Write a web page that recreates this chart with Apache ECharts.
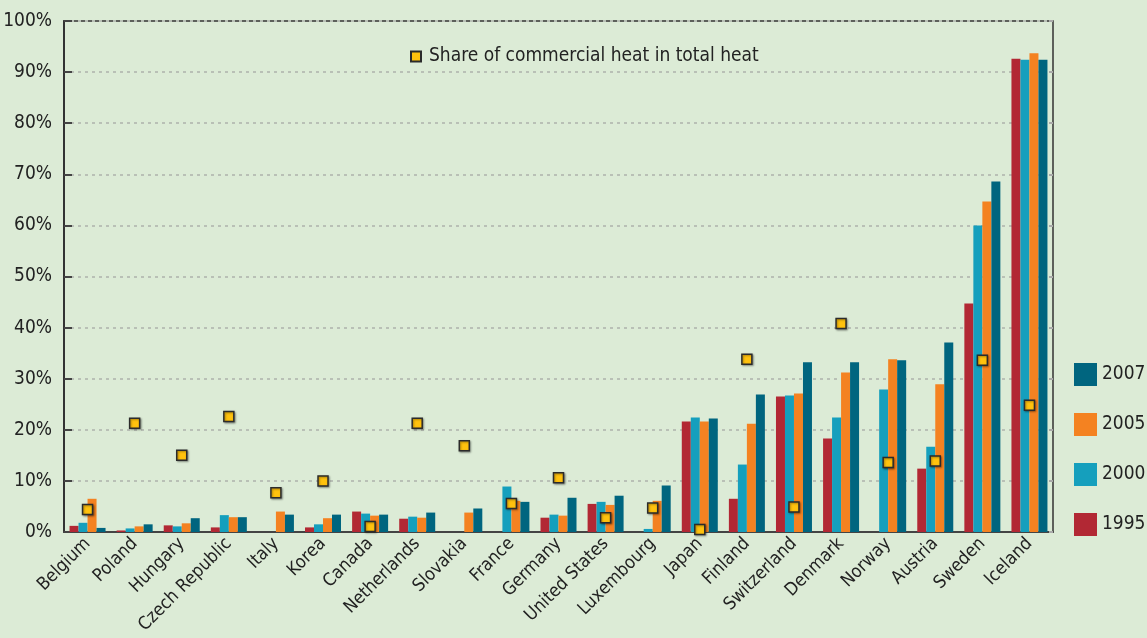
<!DOCTYPE html>
<html>
<head>
<meta charset="utf-8">
<script src="https://cdn.jsdelivr.net/npm/echarts@6/dist/echarts.min.js"></script>
<style>
  html, body { margin: 0; padding: 0; background: #dcebd6; }
  #heat_chart { width: 1147px; height: 638px; }
</style>
</head>
<body>
<div id="heat_chart"></div>
<script>
let countries = ['Belgium', 'Poland', 'Hungary', 'Czech Republic', 'Italy', 'Korea', 'Canada', 'Netherlands', 'Slovakia', 'France', 'Germany', 'United States', 'Luxembourg', 'Japan', 'Finland', 'Switzerland', 'Denmark', 'Norway', 'Austria', 'Sweden', 'Iceland']
let years = ['1995', '2000', '2005', '2007']
let v1995 = [1.2, 0.3, 1.3, 0.9, 0, 0.9, 4.0, 2.6, 0, 0, 2.8, 5.5, 0, 21.6, 6.5, 26.5, 18.3, 0, 12.4, 44.7, 92.6]
let v2000 = [1.8, 0.7, 1.1, 3.3, 0, 1.5, 3.6, 3.0, 0, 8.9, 3.4, 5.9, 0.6, 22.4, 13.2, 26.7, 22.4, 27.9, 16.7, 60.0, 92.4]
let v2005 = [6.5, 1.1, 1.7, 2.9, 4.0, 2.7, 3.2, 2.8, 3.8, 6.1, 3.2, 5.3, 6.1, 21.6, 21.2, 27.1, 31.2, 33.8, 28.9, 64.7, 93.7]
let v2007 = [0.8, 1.5, 2.7, 2.9, 3.4, 3.4, 3.4, 3.8, 4.6, 5.9, 6.7, 7.1, 9.1, 22.2, 26.9, 33.2, 33.2, 33.6, 37.1, 68.6, 92.4]
let commercialShare = [4.4, 21.3, 15.0, 22.6, 7.7, 10.0, 1.1, 21.3, 16.9, 5.6, 10.6, 2.8, 4.7, 0.5, 33.8, 4.9, 40.8, 13.6, 13.9, 33.6, 24.8]
let shareName = 'Share of commercial heat in total heat'

let colors = {
  '1995': '#b22834',
  '2000': '#159fbd',
  '2005': '#f48221',
  '2007': '#00657f'
}
let font = "'DejaVu Sans Condensed', sans-serif"

let dom = document.getElementById('heat_chart')
let myChart = echarts.init(dom)
let yearValues = [v1995, v2000, v2005, v2007]

let option = {
  backgroundColor: '#dcebd6',
  animation: false,
  textStyle: {
    fontFamily: font
  },
  grid: {
    left: 64,
    right: 94,
    top: 21,
    bottom: 106,
    outerBoundsMode: 'none',
    show: true,
    borderColor: '#333',
    borderWidth: 1.5,
    backgroundColor: 'transparent'
  },
  legend: [{
    data: [{ name: shareName, icon: 'rect' }],
    left: 405,
    top: 42,
    itemWidth: 10,
    itemHeight: 10,
    itemGap: 8,
    textStyle: {
      color: '#222',
      fontSize: 19,
      padding: [0, 0, 0, 3],
      fontFamily: font
    }
  }, {
    data: ['2007', '2005', '2000', '1995'],
    orient: 'vertical',
    left: 1069,
    top: 358,
    icon: 'rect',
    itemWidth: 23,
    itemHeight: 23,
    itemGap: 27,
    textStyle: {
      color: '#222',
      fontSize: 19,
      fontFamily: font
    }
  }],
  xAxis: {
    type: 'category',
    data: countries,
    axisLine: {
      lineStyle: { color: '#444', width: 2 }
    },
    axisTick: {
      inside: true,
      length: 5,
      lineStyle: { color: '#555', width: 1.5 }
    },
    axisLabel: {
      rotate: 45,
      interval: 0,
      margin: 9,
      color: '#222',
      fontSize: 18,
      fontFamily: font
    }
  },
  yAxis: [{
    type: 'value',
    min: 0,
    max: 100,
    interval: 10,
    axisLine: {
      show: true,
      lineStyle: { color: '#333', width: 2 }
    },
    axisTick: {
      show: true,
      inside: true,
      length: 8,
      lineStyle: { color: '#444', width: 2 }
    },
    axisLabel: {
      formatter: '{value}%',
      color: '#222',
      fontSize: 19,
      margin: 12,
      fontFamily: font
    },
    splitLine: {
      lineStyle: {
        color: '#b9c0b6',
        width: 2,
        type: [3, 4]
      }
    }
  }, {
    type: 'value',
    min: 0,
    max: 100,
    interval: 10,
    position: 'right',
    axisLine: { show: false },
    axisTick: {
      show: true,
      inside: true,
      length: 4,
      lineStyle: { color: '#aaa', width: 2 }
    },
    axisLabel: { show: false },
    splitLine: { show: false }
  }],
  series: years.map((year, i) => {
    return {
      name: year,
      type: 'bar',
      data: yearValues[i],
      barWidth: 9,
      barGap: '0%',
      itemStyle: {
        color: colors[year]
      }
    }
  }).concat([{
    name: shareName,
    type: 'scatter',
    data: commercialShare,
    symbol: 'rect',
    symbolSize: 10,
    z: 5,
    itemStyle: {
      color: '#ffc20e',
      borderColor: '#2b2b2b',
      borderWidth: 1.5,
      opacity: 1,
      shadowColor: 'rgba(0,0,0,0.35)',
      shadowBlur: 2,
      shadowOffsetX: 1,
      shadowOffsetY: 1
    }
  }])
}

if (option && typeof option === 'object') {
  myChart.setOption(option, true)
}
</script>
</body>
</html>
